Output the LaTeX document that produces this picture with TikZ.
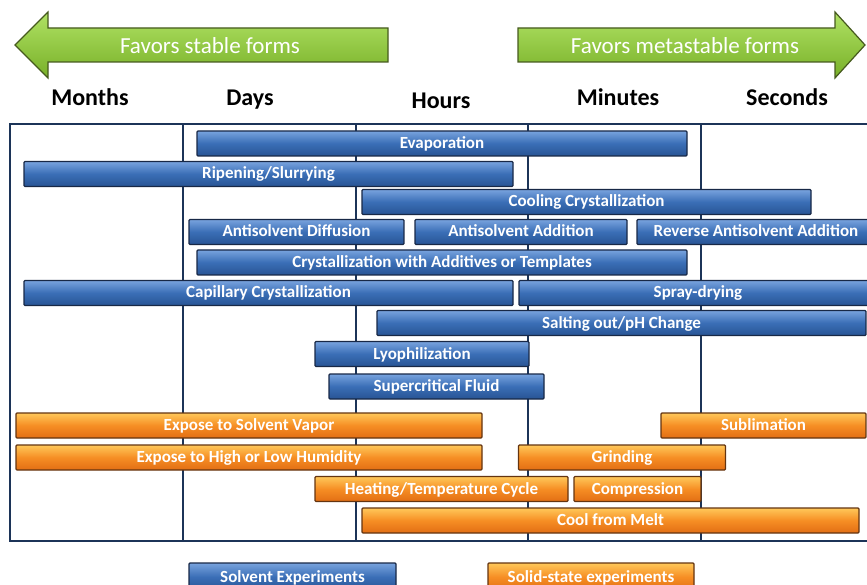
\documentclass[tikz,border=0pt]{standalone}
\usepackage{fontspec}
\setmainfont{Carlito}
\usepackage{xcolor}
\usetikzlibrary{calc}

\definecolor{frameblue}{RGB}{28,52,88}
\definecolor{bluetop}{RGB}{120,163,222}
\definecolor{bluemid}{RGB}{58,110,182}
\definecolor{bluebot}{RGB}{40,84,148}
\definecolor{bluedark}{RGB}{24,40,70}
\definecolor{orangetop}{RGB}{255,200,90}
\definecolor{orangemid}{RGB}{246,142,36}
\definecolor{orangebot}{RGB}{226,110,20}
\definecolor{orangedark}{RGB}{100,52,16}
\definecolor{greentop}{RGB}{176,226,100}
\definecolor{greenbot}{RGB}{120,176,40}
\definecolor{greendark}{RGB}{70,90,30}

\begin{document}
\begin{tikzpicture}[x=1pt, y=-1pt,
        bar/.style={draw, line width=1.1pt, rounded corners=1pt, text=white,
            inner sep=0pt, minimum height=25pt, text height=11pt, text depth=1pt,
            font=\fontsize{17}{19}\selectfont\bfseries},
        solvent/.style={bar, draw=bluedark, top color=bluetop,
            bottom color=bluebot, middle color=bluemid},
        solid/.style={bar, draw=orangedark, top color=orangetop,
            bottom color=orangebot, middle color=orangemid},
        period/.style={anchor=base, font=\fontsize{24}{28}\selectfont\bfseries},
        favors/.style={text=white, inner sep=0pt, font=\fontsize{23}{26}\selectfont},
        arrowshape/.style={draw=greendark, line width=1.2pt, line join=miter,
            top color=greentop, bottom color=greenbot},
        grid/.style={frameblue, line width=2.6pt}]
        \useasboundingbox (0,0) rectangle (867,585);
        \clip (0,0) rectangle (867,585);

        % Arrows on top
        \path[arrowshape] (15,45) -- (48,12) -- (48,28) -- (388,28) -- (388,62)
            -- (48,62) -- (48,78) -- cycle;
        \path[arrowshape] (865,45) -- (835,12) -- (835,28) -- (518,28) -- (518,62)
            -- (835,62) -- (835,78) -- cycle;
        \node[favors] (stable) at (210,46) {Favors stable forms};
        \node[favors] (meta) at (685,46) {Favors metastable forms};

        % Time scale
        \node[period] (months) at (90,106) {Months};
        \node[period] (days) at (250,106) {Days};
        \node[period] (hours) at (441,109) {Hours};
        \node[period] (minutes) at (618,106) {Minutes};
        \node[period] (seconds) at (787,106) {Seconds};

        % Frame and column lines
        \draw[grid] (10,124) rectangle (876,541);
        \draw[grid] (183,124) -- (183,541);
        \draw[grid] (356,124) -- (356,541);
        \draw[grid] (528,124) -- (528,541);
        \draw[grid] (701,124) -- (701,541);

        % Solvent experiments
        \node[solvent, minimum width=490pt] (evap) at (442,143.5) {Evaporation};
        \node[solvent, minimum width=489pt] (ripen) at (268.5,174) {Ripening/Slurrying};
        \node[solvent, minimum width=449pt] (cool) at (586.5,202) {Cooling Crystallization};
        \node[solvent, minimum width=215pt] (asdiff) at (296.5,232) {Antisolvent Diffusion};
        \node[solvent, minimum width=212pt] (asadd) at (521,232) {Antisolvent Addition};
        \node[solvent, minimum width=238pt] (revadd) at (756,232) {Reverse Antisolvent Addition};
        \node[solvent, minimum width=490pt] (additive) at (442,262.5) {Crystallization with Additives or Templates};
        \node[solvent, minimum width=489pt] (capil) at (268.5,293) {Capillary Crystallization};
        \node[solvent, minimum width=358pt] (spray) at (698,293) {Spray-drying};
        \node[solvent, minimum width=489pt] (salt) at (621.5,323) {Salting out/pH Change};
        \node[solvent, minimum width=214pt] (lyo) at (422,354) {Lyophilization};
        \node[solvent, minimum width=215pt] (scf) at (436.5,386.5) {Supercritical Fluid};

        % Solid-state experiments
        \node[solid, minimum width=466pt] (vapor) at (249,425.5) {Expose to Solvent Vapor};
        \node[solid, minimum width=205pt] (subl) at (763.5,425.5) {Sublimation};
        \node[solid, minimum width=466pt] (humid) at (249,457.5) {Expose to High or Low Humidity};
        \node[solid, minimum width=207pt] (grind) at (622,457.5) {Grinding};
        \node[solid, minimum width=253pt] (heat) at (441.5,489) {Heating/Temperature Cycle};
        \node[solid, minimum width=127pt] (compr) at (637.5,489) {Compression};
        \node[solid, minimum width=497pt] (melt) at (610.5,520.5) {Cool from Melt};

        % Legend
        \node[solvent, minimum width=207pt, minimum height=28pt] (legsolv) at (292.5,577) {Solvent Experiments};
        \node[solid, minimum width=206pt, minimum height=28pt] (legsolid) at (591,577) {Solid-state experiments};
    \end{tikzpicture}
\end{document}
